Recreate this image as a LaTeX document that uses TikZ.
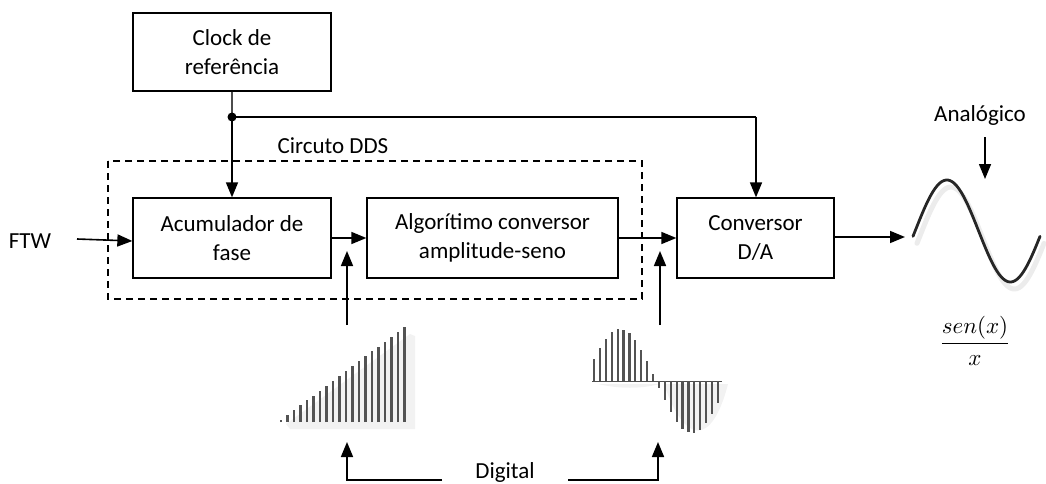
\documentclass[tikz,border=0pt]{standalone}
\usepackage{fontspec}
\setmainfont{Carlito}
\usetikzlibrary{arrows.meta}
\begin{document}
\begin{tikzpicture}[x=1pt,y=-1pt,
  blk/.style={draw, line width=1.3pt, minimum width=#1, minimum height=80pt, align=center, inner sep=0pt, font=\fontsize{23}{28.5}\selectfont},
  lbl/.style={inner sep=0pt, font=\fontsize{23}{28.5}\selectfont},
  arr/.style={line width=1.6pt, -{Triangle[length=15pt,width=12pt]}},
  ln/.style={line width=1.6pt},
  bar/.style={line width=2.8pt, gray!65!black},
  sbar/.style={line width=2.2pt, gray!65!black}]
\useasboundingbox (0,0) rectangle (1046,484);
% blocks
\node[blk=198pt, minimum height=78pt] (clock) at (232,52) {Clock de\\referência};
\node[blk=198pt] (acum) at (232,238) {Acumulador de\\fase};
\node[blk=251pt] (algo) at (492.5,238) {Algorítimo conversor\\amplitude-seno};
\node[blk=157pt] (conv) at (755.5,238) {Conversor\\D/A};
% dashed DDS box
\draw[line width=1.3pt, dash pattern=on 7pt off 5pt] (108,161) rectangle (642,299);
\node[lbl] (dds) at (333,146) {Circuto DDS};
% inputs/labels
\node[lbl] (ftw) at (30,241) {FTW};
\coordinate (ftwS) at (77,239);
\node[lbl] (analog) at (980,115) {Analógico};
\node[lbl] (digital) at (505,472) {Digital};
% clock distribution
\coordinate (dot) at (232,117);
\coordinate (corner) at (756,117);
\draw[ln, gray!60!black] (clock.south) -- (dot);
\draw[arr] (dot) -- (acum.north);
\draw[ln] (dot) -- (corner);
\draw[arr] (corner) -- (conv.north -| corner);
\fill (dot) circle (4.5pt);
% main chain
\draw[arr] (ftwS) -- (ftw.east -| acum.west);
\draw[arr] (acum.east) -- (algo.west);
\draw[arr] (algo.east) -- (conv.west);
\coordinate (out) at (905,237);
\draw[arr] (conv.east |- out) -- (out);
% up arrows to digital signals
\coordinate (u1b) at (347,325); \coordinate (u1t) at (347,251);
\coordinate (u2b) at (660,325); \coordinate (u2t) at (660,251);
\draw[arr] (u1b) -- (u1t);
\draw[arr] (u2b) -- (u2t);
% Digital arrows
\coordinate (d1a) at (442,480); \coordinate (d1b) at (347,480); \coordinate (d1c) at (347,442);
\coordinate (d2a) at (568,480); \coordinate (d2b) at (658,480); \coordinate (d2c) at (658,442);
\draw[arr] (d1a) -- (d1b) -- (d1c);
\draw[arr] (d2a) -- (d2b) -- (d2c);
% Analog arrow
\coordinate (a1) at (985,137); \coordinate (a2) at (985,179);
\draw[arr] (a1) -- (a2);
% ramp signal
\fill[gray!10] (286,424) -- (410,334) -- (415,336) -- (415,429) -- (290,429) -- cycle;
\foreach \i in {0,...,19} {
  \pgfmathsetmacro\xx{281+6.5*\i}
  \pgfmathsetmacro\yy{422-(2+93*\i/19)}
  \draw[bar] (\xx,422) -- (\xx,\yy);
}
% sampled sine
\fill[gray!10] (598,384) .. controls (620,389) and (640,389) .. (660,384) -- cycle;
\fill[gray!10] (664,384) .. controls (685,446) and (712,446) .. (728,384) -- cycle;
\draw[line width=1pt, gray!60!black] (592,381) -- (722,381);
\foreach \i in {0,...,21} {
  \pgfmathsetmacro\xx{594+5.9*\i}
  \pgfmathsetmacro\yy{381-52*sin((\xx-584)/72*180)}
  \draw[sbar] (\xx,381) -- (\xx,\yy);
}
% analog sine
\draw[line width=5pt, gray!15, line cap=round] plot[domain=-6:354, samples=80, smooth] ({917+(\x+6)/360*127}, {238-51*sin(\x)});
\draw[line width=2.8pt, gray!30!black, line cap=round] plot[domain=-6:354, samples=80, smooth] ({913+(\x+6)/360*127}, {231-51*sin(\x)});
% sen(x)/x
\node[scale=2.3, inner sep=0pt] (frac) at (975,341) {$\displaystyle\frac{sen(x)}{x}$};
\end{tikzpicture}
\end{document}
